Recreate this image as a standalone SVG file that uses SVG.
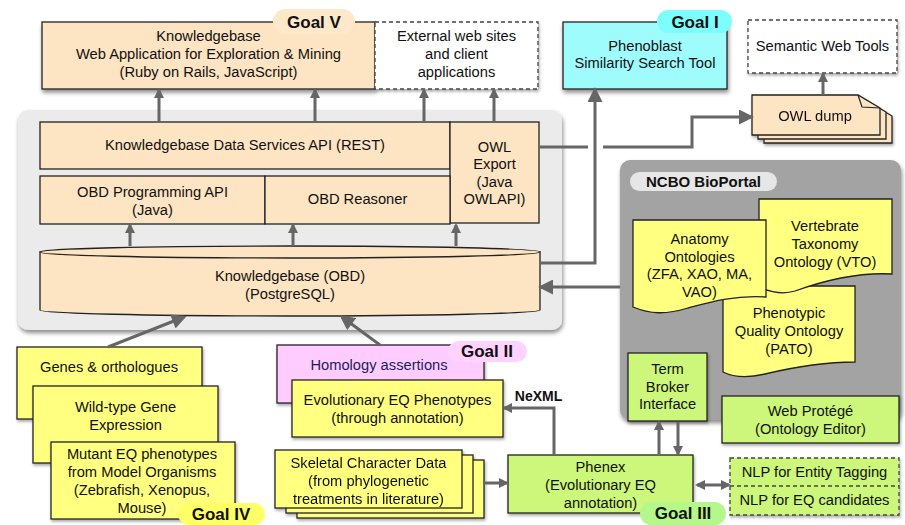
<svg xmlns="http://www.w3.org/2000/svg" width="905" height="525" viewBox="0 0 905 525">
<defs>
<filter id="sh" x="-10%" y="-10%" width="125%" height="140%"><feDropShadow dx="1" dy="3" stdDeviation="2" flood-color="#000" flood-opacity="0.45"/></filter>
<filter id="shs" x="-10%" y="-10%" width="125%" height="140%"><feDropShadow dx="1" dy="2" stdDeviation="1.5" flood-color="#000" flood-opacity="0.35"/></filter>
<marker id="as" viewBox="0 0 10 10" refX="8" refY="5" markerUnits="userSpaceOnUse" markerWidth="10" markerHeight="10" orient="auto-start-reverse"><path d="M0,0 L10,5 L0,10 z" fill="#666"/></marker>
<marker id="al" viewBox="0 0 10 10" refX="8" refY="5" markerUnits="userSpaceOnUse" markerWidth="16" markerHeight="15" orient="auto"><path d="M0,0 L10,5 L0,10 z" fill="#666"/></marker>
<style>
text{font-family:"Liberation Sans",Arial,sans-serif;font-size:14.7px;fill:#111;text-anchor:middle}
.g{font-weight:bold;font-size:17px}
.b{font-weight:bold}
.peach{fill:#fde4c2;stroke:#222;stroke-width:1.3}
.yel{fill:#ffff80;stroke:#222;stroke-width:1.3}
.grn{fill:#ccf77a;stroke:#222;stroke-width:1.3}
.dash{fill:#fff;stroke:#444;stroke-width:1.3;stroke-dasharray:4,3}
.c{fill:none;stroke:#666;stroke-width:3}
</style>
</defs>

<g id="kb-panel"><rect x="18" y="110" width="544" height="220" rx="10" fill="#ebebeb" filter="url(#sh)"/></g>
<g id="bioportal"><rect x="620" y="160" width="281" height="260" rx="10" fill="#a3a3a3" filter="url(#sh)"/>
<rect x="630" y="172" width="147" height="19" rx="9.5" fill="#e6e6e6"/><text x="703.5" y="187" class="b" style="font-size:15px">NCBO BioPortal</text></g>

<g id="webapp"><rect x="42" y="22" width="333" height="67" class="peach" filter="url(#sh)"/>
<rect x="273" y="9" width="82" height="25" rx="12.5" fill="#fde8c9"/><text x="314" y="28" class="g">Goal V</text>
<text x="208.5" y="41">Knowledgebase</text><text x="208.5" y="59">Web Application for Exploration &amp; Mining</text><text x="208.5" y="77">(Ruby on Rails, JavaScript)</text></g>

<g id="external"><rect x="375" y="22" width="163" height="67" class="dash" filter="url(#shs)"/>
<text x="456.5" y="41">External web sites</text><text x="456.5" y="59">and client</text><text x="456.5" y="77">applications</text></g>

<g id="phenoblast"><rect x="563" y="22" width="164" height="67" fill="#9ffcfc" stroke="#222" stroke-width="1.3" filter="url(#sh)"/>
<rect x="657" y="10" width="75" height="23" rx="11.5" fill="#7dfdfd"/><text x="695" y="28" class="g">Goal I</text>
<text x="645" y="51">Phenoblast</text><text x="645" y="68">Similarity Search Tool</text></g>

<g id="semweb"><rect x="748" y="20" width="149" height="53" class="dash" filter="url(#shs)"/><text x="822.5" y="51">Semantic Web Tools</text></g>

<g id="owldump" filter="url(#shs)">
<path d="M764,103 H870 L892,116 V143 H764 Z" class="peach"/>
<path d="M758,99 H864 L886,112 V139 H758 Z" class="peach"/>
<path d="M752,95 H858 L880,108 V135 H752 Z" class="peach"/>
<path d="M858,95 L862,107 L880,108" fill="none" stroke="#222" stroke-width="1.2"/>
<text x="815" y="121">OWL dump</text></g>

<g id="dataservices"><rect x="40" y="122" width="410" height="47" class="peach"/><text x="245" y="150">Knowledgebase Data Services API (REST)</text></g>
<g id="owlexport"><rect x="450" y="122" width="89" height="101" class="peach"/>
<text x="494.5" y="152">OWL</text><text x="494.5" y="169">Export</text><text x="494.5" y="187">(Java</text><text x="494.5" y="204">OWLAPI)</text></g>
<g id="obdapi"><rect x="40" y="176" width="225" height="48" class="peach"/><text x="152.5" y="197">OBD Programming API</text><text x="152.5" y="215">(Java)</text></g>
<g id="reasoner"><rect x="265" y="176" width="185" height="48" class="peach"/><text x="357.5" y="204">OBD Reasoner</text></g>
<g id="kb"><path d="M40,252 V310 A250,6 0 0 0 540,310 V252 Z" class="peach"/><ellipse cx="290" cy="252" rx="250" ry="6" class="peach"/>
<text x="290" y="281">Knowledgebase (OBD)</text><text x="290" y="299">(PostgreSQL)</text></g>

<g id="pato"><path d="M723,286 H855 V362 C820,362 790,368 765,374 C748,378 735,378 723,372 Z" class="yel"/>
<text x="789" y="318">Phenotypic</text><text x="789" y="336">Quality Ontology</text><text x="789" y="354">(PATO)</text></g>
<g id="vto"><path d="M759,199 H892 V274 C855,272 820,282 795,291 C782,295 770,292 759,287 Z" class="yel"/>
<text x="825" y="231">Vertebrate</text><text x="825" y="249">Taxonomy</text><text x="825" y="267">Ontology (VTO)</text></g>
<g id="anatomy"><path d="M633,220 H766 V297 C735,295 710,302 688,308 C665,315 650,314 633,307 Z" class="yel"/>
<text x="699.5" y="244">Anatomy</text><text x="699.5" y="262">Ontologies</text><text x="699.5" y="279">(ZFA, XAO, MA,</text><text x="699.5" y="297">VAO)</text></g>

<g id="termbroker"><rect x="628" y="353" width="79" height="68" class="grn" filter="url(#shs)"/>
<text x="667.5" y="374">Term</text><text x="667.5" y="392">Broker</text><text x="667.5" y="409">Interface</text></g>
<g id="webprotege"><rect x="722" y="396" width="177" height="47" class="grn" filter="url(#shs)"/>
<text x="810.5" y="416">Web Protégé</text><text x="810.5" y="434">(Ontology Editor)</text></g>
<g id="nlp"><rect x="730" y="458" width="169" height="57" fill="#ccf77a" stroke="#444" stroke-width="1.3" stroke-dasharray="4,3" filter="url(#shs)"/>
<line x1="730" y1="486" x2="899" y2="486" stroke="#444" stroke-width="1.3" stroke-dasharray="4,3"/>
<text x="814.5" y="477">NLP for Entity Tagging</text><text x="814.5" y="505">NLP for EQ candidates</text></g>
<g id="phenex"><rect x="508" y="455" width="185" height="58" class="grn" filter="url(#shs)"/>
<text x="600.5" y="472">Phenex</text><text x="600.5" y="490">(Evolutionary EQ</text><text x="600.5" y="508">annotation)</text>
<rect x="640" y="502" width="86" height="23" rx="11.5" fill="#b5f78a"/><text x="683" y="519" class="g">Goal III</text></g>

<g id="genes"><rect x="17" y="347" width="185" height="72" class="yel" filter="url(#shs)"/><text x="109" y="372">Genes &amp; orthologues</text></g>
<g id="wildtype"><rect x="33" y="386" width="185" height="77" class="yel" filter="url(#shs)"/><text x="125.5" y="412">Wild-type Gene</text><text x="125.5" y="430">Expression</text></g>
<g id="mutant"><rect x="51" y="442" width="184" height="77" class="yel" filter="url(#shs)"/>
<text x="142" y="459">Mutant EQ phenotypes</text><text x="142" y="477">from Model Organisms</text><text x="142" y="495">(Zebrafish, Xenopus,</text><text x="142" y="513">Mouse)</text>
<rect x="178" y="503" width="87" height="22" rx="11" fill="#ffff66"/><text x="221" y="520" class="g">Goal IV</text></g>

<g id="homology"><rect x="277" y="345" width="207" height="58" fill="#ffccff" stroke="#222" stroke-width="1.3" filter="url(#shs)"/>
<text x="379" y="370" style="fill:#1c1c5c">Homology assertions</text>
<rect x="448" y="341" width="79" height="21" rx="10.5" fill="#ffd2ff"/><text x="487" y="357" class="g">Goal II</text></g>
<g id="evoleq"><rect x="292" y="380" width="211" height="57" class="yel" filter="url(#shs)"/>
<text x="397.5" y="405">Evolutionary EQ Phenotypes</text><text x="397.5" y="423">(through annotation)</text></g>
<g id="skeletal" filter="url(#shs)"><rect x="297" y="460" width="187" height="58" class="yel"/><rect x="286" y="455" width="187" height="58" class="yel"/><rect x="275" y="450" width="187" height="58" class="yel"/>
<text x="368.5" y="468">Skeletal Character Data</text><text x="368.5" y="486">(from phylogenetic</text><text x="368.5" y="504">treatments in literature)</text></g>

<g id="connectors">
<path class="c" d="M159,122 V90" marker-end="url(#as)"/>
<path class="c" d="M315,122 V90" marker-end="url(#as)"/>
<path class="c" d="M424,122 V90" marker-end="url(#as)"/>
<path class="c" d="M494,122 V90" marker-end="url(#as)"/>
<path class="c" d="M130,246 V225" marker-end="url(#as)"/>
<path class="c" d="M293,246 V225" marker-end="url(#as)"/>
<path class="c" d="M456,246 V225" marker-end="url(#as)"/>
<path class="c" d="M540,263 H595 V90" marker-end="url(#al)"/>
<path class="c" d="M539,147 H588"/>
<path class="c" d="M603,147 H692 V117 H751" marker-end="url(#al)"/>
<path class="c" d="M823,95 V74" marker-end="url(#as)"/>
<path class="c" d="M620,287 H541" marker-end="url(#al)"/>
<path class="c" d="M108,347 L184,317" marker-end="url(#al)"/>
<path class="c" d="M380,345 L342,317" marker-end="url(#al)"/>
<path class="c" d="M484,483 H507" marker-end="url(#as)"/>
<path class="c" d="M554,455 V408 H504" marker-end="url(#as)"/>
<path class="c" d="M659,454 V422" marker-end="url(#as)"/>
<path class="c" d="M678,422 V454" marker-end="url(#as)"/>
<path class="c" d="M697,485 H729" marker-start="url(#as)" marker-end="url(#as)"/>
<text x="538.5" y="401" class="b" style="font-size:14px">NeXML</text>
</g>
</svg>
